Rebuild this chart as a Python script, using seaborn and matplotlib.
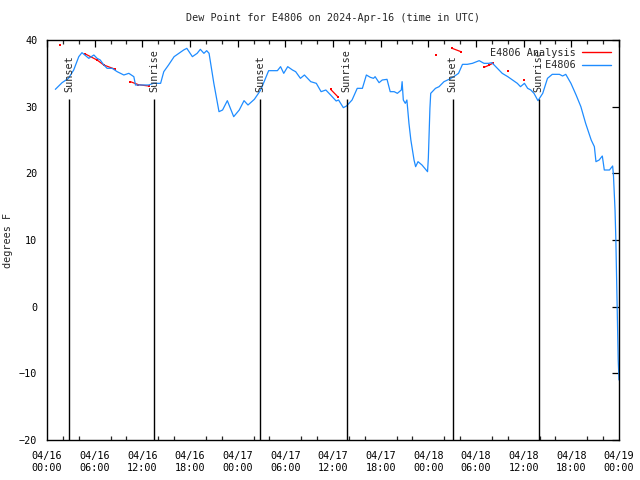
import numpy as np
import pandas as pd
import matplotlib
matplotlib.use("Agg")
import matplotlib.pyplot as plt
import matplotlib.dates as mdates
from matplotlib.lines import Line2D
import seaborn as sns

# ---- data (hours after 2024-04-16 00:00 UTC, dew point in degrees F) ----
start = pd.Timestamp("2024-04-16 00:00")

obs_hours = [1.05, 1.9, 2.7, 3.36, 4.0, 4.4, 4.7, 5.26, 5.9, 6.3, 6.7, 7.15, 7.57, 8.2,
             8.83, 9.67, 10.3, 10.93, 11.14, 11.98, 12.8, 13.4, 14.3, 14.7, 15.3, 16.0,
             16.6, 17.2, 17.6, 18.3, 18.9, 19.3, 19.75, 20.1, 20.4, 21.0, 21.65, 22.1,
             22.7, 23.5, 24.2, 24.8, 25.3, 26.1, 26.9, 27.9, 29.0, 29.4, 29.8, 30.3,
             30.9, 31.3, 31.9, 32.4, 33.2, 33.9, 34.5, 35.1, 35.7, 36.4, 36.7, 37.3,
             37.7, 38.4, 39.05, 39.7, 40.2, 40.7, 41.1, 41.3, 41.8, 42.2, 42.8, 43.2,
             43.7, 44.1, 44.6, 44.7, 44.85, 45.1, 45.3, 45.56, 45.8, 46.2, 46.4, 46.7,
             47.2, 47.9, 48.0, 48.2, 48.3, 48.9, 49.35, 49.97, 50.6, 51.2, 51.8, 52.3,
             52.9, 53.55, 54.4, 55.0, 55.6, 56.0, 56.7, 57.3, 58.0, 58.6, 59.2, 59.6,
             60.1, 60.5, 60.9, 61.3, 61.8, 62.4, 63.0, 63.6, 64.5, 64.9, 65.3, 65.95,
             66.6, 67.2, 67.8, 68.5, 68.9, 69.1, 69.5, 69.9, 70.15, 70.8, 71.2, 71.3,
             71.4, 71.5, 71.6, 71.7, 71.8, 71.9, 72.0]
obs_values = [32.6, 33.6, 34.25, 35.5, 37.5, 38.1, 37.8, 37.25, 37.75, 37.25, 37.0, 36.25,
              35.75, 35.75, 35.25, 34.75, 35.0, 34.5, 33.25, 33.25, 33.25, 33.5, 33.5,
              35.25, 36.25, 37.5, 38.0, 38.5, 38.75, 37.5, 38.0, 38.6, 38.0, 38.4, 38.0,
              33.5, 29.25, 29.5, 30.9, 28.5, 29.5, 30.9, 30.25, 31.1, 32.5, 35.4, 35.4,
              36.0, 35.0, 36.0, 35.5, 35.25, 34.25, 34.75, 33.75, 33.5, 32.25, 32.5,
              31.75, 30.85, 31.0, 29.85, 30.1, 31.0, 32.75, 32.75, 34.75, 34.4, 34.25,
              34.5, 33.6, 34.0, 34.1, 32.25, 32.25, 32.0, 32.5, 33.75, 31.0, 30.5, 31.0,
              27.5, 25.0, 22.0, 21.0, 21.75, 21.25, 20.25, 22.25, 29.75, 32.0, 32.75,
              33.0, 33.75, 34.1, 34.5, 35.0, 36.35, 36.35, 36.5, 36.9, 36.5, 36.5, 36.6,
              35.75, 35.0, 34.5, 34.0, 33.5, 33.0, 33.5, 32.75, 32.5, 32.0, 30.9, 32.0,
              34.25, 34.85, 34.85, 34.6, 34.85, 33.5, 31.75, 30.0, 27.5, 25.0, 24.0,
              21.75, 22.0, 22.6, 20.5, 20.5, 21.1, 19.75, 17.25, 14.5, 10.25, 4.25,
              -2.0, -8.0, -11.0]

ana_hours = [1.6, 4.83, 6.3, 7.15, 8.6, 10.5, 11.5, 12.8, 35.7, 36.6, 49.0,
             51.0, 52.1, 55.0, 55.6, 56.1, 58.0, 60.1]
ana_values = [39.25, 37.9, 37.0, 36.25, 35.6, 33.75, 33.3, 33.1, 32.6, 31.5, 37.75,
              38.75, 38.25, 35.9, 36.2, 36.5, 35.35, 34.0]
ana_segment = [0, 1, 1, 1, 1, 2, 2, 2, 3, 3, 4, 5, 5, 6, 6, 6, 7, 8]

sun_hours = [2.77, 13.5, 26.86, 37.7, 51.07, 61.9]
sun_labels = ["Sunset", "Sunrise", "Sunset", "Sunrise", "Sunset", "Sunrise"]

title = "Dew Point for E4806 on 2024-Apr-16 (time in UTC)"
ylabel = "degrees F"
series_names = ["E4806 Analysis", "E4806"]

# ---- frames ----
obs = pd.DataFrame({"time": start + pd.to_timedelta(obs_hours, unit="h"),
                    "value": obs_values})
ana = pd.DataFrame({"time": start + pd.to_timedelta(ana_hours, unit="h"),
                    "value": ana_values, "seg": ana_segment})
sun_times = start + pd.to_timedelta(sun_hours, unit="h")

sns.set_style("white")
plt.rcParams["font.family"] = ["DejaVu Sans Mono", "DejaVu Sans"]
FS = 7.3

fig = plt.figure(figsize=(6.4, 4.8), dpi=100)
ax = fig.add_axes([47 / 640, 1 - 440 / 480, 572 / 640, 400 / 480])

BLUE = "#1e8cff"
RED = "#ff0000"

sns.lineplot(data=ana, x="time", y="value", units="seg", estimator=None,
             color=RED, lw=0.9, marker="s", markersize=1.6, markeredgewidth=0,
             sort=False, legend=False, ax=ax)
sns.lineplot(data=obs, x="time", y="value", color=BLUE, lw=0.9,
             sort=False, legend=False, ax=ax)

for t, lab in zip(sun_times, sun_labels):
    ax.vlines(t, -20, 31.2, color="black", lw=1.0)
    ax.text(t, 32.2, lab, rotation=90, ha="center", va="bottom", fontsize=FS)

ax.set_xlim(start, start + pd.Timedelta(hours=72))
ax.set_ylim(-20, 40)
ax.set_yticks(range(-20, 41, 10))
ax.xaxis.set_major_locator(mdates.HourLocator(byhour=range(0, 24, 6)))
ax.xaxis.set_minor_locator(mdates.HourLocator(byhour=range(0, 24, 2)))
ax.xaxis.set_major_formatter(mdates.DateFormatter("%m/%d\n%H:%M"))

ax.tick_params(axis="both", which="major", direction="in", length=5, width=0.9,
               top=True, right=True, labelsize=FS, pad=7, colors="black")
ax.tick_params(axis="x", which="minor", direction="in", length=3, width=0.9,
               top=True, bottom=True)
ax.tick_params(axis="x", which="major", pad=8)
for s in ax.spines.values():
    s.set_visible(True)
    s.set_color("black")
    s.set_linewidth(1.0)

ax.set_xlabel("")
ax.set_ylabel(ylabel, fontsize=FS, labelpad=4)
ax.set_title(title, fontsize=FS, pad=14)

handles = [Line2D([], [], color=RED, lw=1.0), Line2D([], [], color=BLUE, lw=1.0)]
width = max(len(n) for n in series_names)
labels = [n.rjust(width) for n in series_names]
ax.legend(handles, labels, loc="upper right", bbox_to_anchor=(1.0, 1.0),
          markerfirst=False, frameon=False, fontsize=FS, handlelength=2.9,
          handletextpad=0.6, labelspacing=0.25, borderaxespad=0.35)

fig.savefig("out.png", dpi=100)
